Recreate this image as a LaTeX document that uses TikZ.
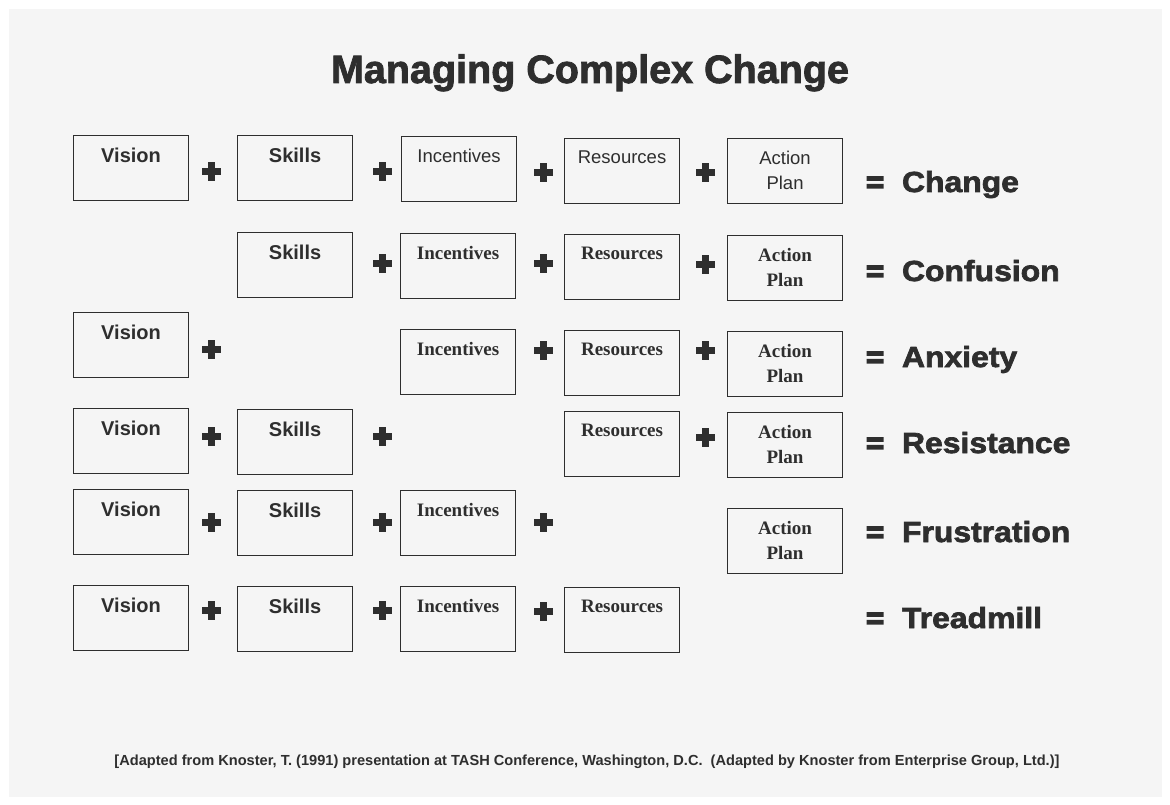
\documentclass[tikz,border=0pt]{standalone}
\usepackage{fontspec}
\setmainfont{Liberation Sans}
\newfontfamily\serifb{Liberation Serif}
\newfontfamily\heavyf[FakeBold=2]{Liberation Sans}
\newfontfamily\blackf[FakeBold=2.4,FakeStretch=1.1]{Liberation Sans}
\newfontfamily\eqf[FakeBold=5.5,FakeStretch=1.05]{Liberation Sans}
\definecolor{ink}{HTML}{2E2E2E}
\definecolor{paper}{HTML}{F5F5F5}
\tikzset{
  cellbox/.style={draw=ink, line width=1.1pt, minimum width=115pt, minimum height=65pt, inner sep=0pt, anchor=north west},
  celltxt/.style={anchor=north, inner sep=0pt, align=center, text=ink},
  sansb/.style={font=\fontsize{20}{25}\selectfont\bfseries},
  sansr/.style={font=\fontsize{18.5}{25}\selectfont},
  serb/.style={font=\serifb\fontsize{19}{25}\selectfont\bfseries},
  result/.style={anchor=base west, inner sep=0pt, text=ink, font=\blackf\fontsize{29}{29}\selectfont\bfseries},
  plusbar/.style={fill=ink, inner sep=0pt, minimum width=19pt, minimum height=7pt},
}
\newcommand\mkcell[5]{%
  \node[cellbox] (#1) at (#2,#3) {};
  \node[celltxt,#4] (#1t) at ([yshift=-13pt]#1.north) {#5};
}
\newcommand\plussign[3]{%
  \node[plusbar] (#1) at (#2,#3) {};
  \fill[ink] ([xshift=-3.5pt,yshift=-9.5pt]#1.center) rectangle ([xshift=3.5pt,yshift=9.5pt]#1.center);
}
\newcommand\eqsign{{\eqf\bfseries =}\hspace{18pt}}
\begin{document}
\begin{tikzpicture}[x=1pt,y=-1pt]
\useasboundingbox (0,0) rectangle (1170,805);
\fill[white] (0,0) rectangle (1170,805);
\fill[paper] (9,9) rectangle (1162,797);

\node[anchor=base, inner sep=0pt, text=ink, font=\heavyf\fontsize{39.5}{40}\selectfont\bfseries] (title) at (590,83) {Managing Complex Change};

% Row 1
\mkcell{a1}{73}{135}{sansb}{Vision}
\mkcell{b1}{237}{135}{sansb}{Skills}
\mkcell{c1}{401}{136}{sansr}{Incentives}
\mkcell{d1}{564}{138}{sansr}{Resources}
\mkcell{e1}{727}{138}{sansr}{Action\\Plan}
\plussign{p11}{211}{172}
\plussign{p12}{382}{172}
\plussign{p13}{543}{173}
\plussign{p14}{705}{173}
\node[result] (r1) at (866,192) {\eqsign Change};

% Row 2
\mkcell{b2}{237}{232}{sansb}{Skills}
\mkcell{c2}{400}{233}{serb}{Incentives}
\mkcell{d2}{564}{234}{serb}{Resources}
\mkcell{e2}{727}{235}{serb}{Action\\Plan}
\plussign{p22}{382}{263}
\plussign{p23}{543}{263}
\plussign{p24}{705}{264}
\node[result] (r2) at (866,281) {\eqsign Confusion};

% Row 3
\mkcell{a3}{73}{312}{sansb}{Vision}
\mkcell{c3}{400}{329}{serb}{Incentives}
\mkcell{d3}{564}{330}{serb}{Resources}
\mkcell{e3}{727}{331}{serb}{Action\\Plan}
\plussign{p31}{211}{349}
\plussign{p33}{543}{350}
\plussign{p34}{705}{350}
\node[result] (r3) at (866,367) {\eqsign Anxiety};

% Row 4
\mkcell{a4}{73}{408}{sansb}{Vision}
\mkcell{b4}{237}{409}{sansb}{Skills}
\mkcell{d4}{564}{411}{serb}{Resources}
\mkcell{e4}{727}{412}{serb}{Action\\Plan}
\plussign{p41}{211}{436}
\plussign{p42}{382}{436}
\plussign{p44}{705}{437}
\node[result] (r4) at (866,453) {\eqsign Resistance};

% Row 5
\mkcell{a5}{73}{489}{sansb}{Vision}
\mkcell{b5}{237}{490}{sansb}{Skills}
\mkcell{c5}{400}{490}{serb}{Incentives}
\mkcell{e5}{727}{508}{serb}{Action\\Plan}
\plussign{p51}{211}{522}
\plussign{p52}{382}{522}
\plussign{p53}{543}{522}
\node[result] (r5) at (866,542) {\eqsign Frustration};

% Row 6
\mkcell{a6}{73}{585}{sansb}{Vision}
\mkcell{b6}{237}{586}{sansb}{Skills}
\mkcell{c6}{400}{586}{serb}{Incentives}
\mkcell{d6}{564}{587}{serb}{Resources}
\plussign{p61}{211}{610}
\plussign{p62}{382}{610}
\plussign{p63}{543}{611}
\node[result] (r6) at (866,628) {\eqsign Treadmill};

\node[anchor=base, inner sep=0pt, text=ink, font=\fontsize{14.6}{15}\selectfont\bfseries] (note) at (587,765) {[Adapted from Knoster, T. (1991) presentation at TASH Conference, Washington, D.C.\ \ (Adapted by Knoster from Enterprise Group, Ltd.)]};
\end{tikzpicture}
\end{document}
